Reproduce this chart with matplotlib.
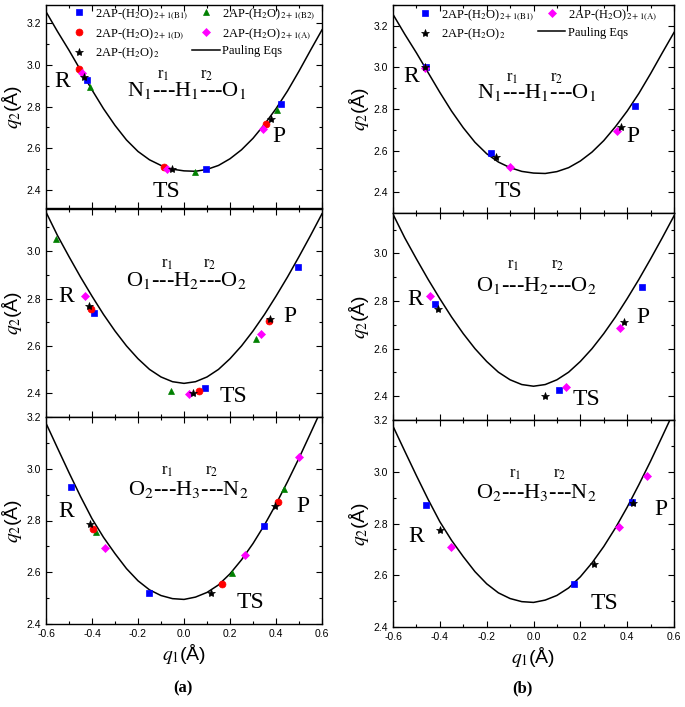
import matplotlib
matplotlib.use('Agg')
import matplotlib.pyplot as plt
from matplotlib.ticker import MultipleLocator, FormatStrFormatter

plt.rcParams['font.family'] = ['Liberation Serif', 'DejaVu Serif']
plt.rcParams['mathtext.fontset'] = 'stix'

# Pauling curves, q1 grid shared by all panels
q1_grid = [-0.60, -0.55, -0.50, -0.45, -0.40, -0.35, -0.30, -0.25, -0.20, -0.15, -0.10, -0.05, 0.00,
           0.05, 0.10, 0.15, 0.20, 0.25, 0.30, 0.35, 0.40, 0.45, 0.50, 0.55, 0.60]
pauling_nho = [3.255, 3.16, 3.07, 2.975, 2.88, 2.79, 2.71, 2.64, 2.585, 2.545, 2.518, 2.50, 2.492,
               2.49, 2.499, 2.518, 2.55, 2.593, 2.648, 2.715, 2.79, 2.875, 2.97, 3.07, 3.168]
pauling_oho = [3.165, 3.066, 2.977, 2.891, 2.810, 2.733, 2.663, 2.600, 2.546, 2.501, 2.469, 2.449, 2.442,
               2.449, 2.469, 2.501, 2.546, 2.600, 2.663, 2.733, 2.810, 2.891, 2.977, 3.066, 3.158]
pauling_ohn = [3.176, 3.08, 2.985, 2.893, 2.807, 2.735, 2.672, 2.614, 2.567, 2.532, 2.51, 2.498, 2.495,
               2.504, 2.522, 2.551, 2.594, 2.648, 2.711, 2.783, 2.863, 2.95, 3.041, 3.137, 3.234]

# points (q1 list, q2 list) ordered R, TS, P
# panel (a) N1-H1-O1
a1_B1 = ([-0.420, 0.096, 0.422], [2.926, 2.499, 2.814])
a1_B2 = ([-0.409, 0.049, 0.403], [2.896, 2.485, 2.784])
a1_D = ([-0.455, -0.085, 0.357], [2.981, 2.512, 2.715])
a1_A = ([-0.443, -0.074, 0.345], [2.963, 2.501, 2.693])
a1_S = ([-0.433, -0.054, 0.378], [2.944, 2.499, 2.741])
# panel (a) O1-H2-O2
a2_B1 = ([-0.390, 0.090, 0.497], [2.741, 2.421, 2.934])
a2_B2 = ([-0.557, -0.057, 0.312], [3.050, 2.411, 2.629])
a2_D = ([-0.404, 0.067, 0.368], [2.757, 2.409, 2.707])
a2_A = ([-0.430, 0.023, 0.335], [2.809, 2.396, 2.650])
a2_S = ([-0.412, 0.040, 0.374], [2.767, 2.400, 2.715])
# panel (a) O2-H3-N2
a3_B1 = ([-0.491, -0.151, 0.349], [2.928, 2.521, 2.779])
a3_B2 = ([-0.383, 0.209, 0.436], [2.754, 2.597, 2.921])
a3_D = ([-0.394, 0.165, 0.410], [2.766, 2.554, 2.872])
a3_A = ([-0.342, 0.267, 0.501], [2.695, 2.667, 3.046])
a3_S = ([-0.407, 0.117, 0.397], [2.786, 2.521, 2.855])
# panel (b)
b1_B1 = ([-0.460, -0.180, 0.435], [3.003, 2.590, 2.814])
b1_A = ([-0.465, -0.102, 0.357], [2.995, 2.523, 2.694])
b1_S = ([-0.462, -0.161, 0.372], [3.000, 2.568, 2.715])
b2_B1 = ([-0.419, 0.108, 0.465], [2.789, 2.428, 2.857])
b2_A = ([-0.440, 0.137, 0.371], [2.821, 2.438, 2.688])
b2_S = ([-0.408, 0.048, 0.385], [2.765, 2.400, 2.712])
b3_B1 = ([-0.459, 0.175, 0.421], [2.872, 2.566, 2.885])
b3_A = ([-0.352, 0.364, 0.483], [2.708, 2.788, 2.985])
b3_S = ([-0.398, 0.258, 0.423], [2.775, 2.644, 2.879])

lab_B1 = r'2AP-(H$_2$O)$_{\mathrm{2+1(B1)}}$'
lab_B2 = r'2AP-(H$_2$O)$_{\mathrm{2+1(B2)}}$'
lab_D = r'2AP-(H$_2$O)$_{\mathrm{2+1(D)}}$'
lab_A = r'2AP-(H$_2$O)$_{\mathrm{2+1(A)}}$'
lab_S = r'2AP-(H$_2$O)$_2$'

sty = {
    'B1': dict(marker='s', color='#0000ff', ms=4.5),
    'B2': dict(marker='^', color='#008000', ms=5),
    'D': dict(marker='o', color='#ff0000', ms=5),
    'A': dict(marker='D', color='#ff00ff', ms=4.2),
    'S': dict(marker='*', color='black', ms=6),
}

fig = plt.figure(figsize=(6.85, 7.07), dpi=100)
W, H = 685.0, 707.0


def make_ax(x0, x1, y0, y1):
    return fig.add_axes([x0 / W, 1 - y1 / H, (x1 - x0) / W, (y1 - y0) / H])


def style_ax(ax, ylim, show_x):
    ax.set_xlim(-0.6, 0.6)
    ax.set_ylim(*ylim)
    ax.xaxis.set_major_locator(MultipleLocator(0.2))
    ax.xaxis.set_minor_locator(MultipleLocator(0.1))
    ax.yaxis.set_major_locator(MultipleLocator(0.2))
    ax.yaxis.set_minor_locator(MultipleLocator(0.1))
    ax.xaxis.set_major_formatter(FormatStrFormatter('%.1f'))
    ax.yaxis.set_major_formatter(FormatStrFormatter('%.1f'))
    ax.tick_params(which='both', direction='in', top=True, right=True,
                   labelsize=7.5, labelfontfamily='Liberation Sans', width=0.8,
                   labelbottom=show_x, colors='black')
    ax.tick_params(which='major', length=4)
    ax.tick_params(which='minor', length=2)
    ax.set_ylabel(r'$q_2$(Å)', fontsize=14, family='Liberation Sans', labelpad=2)
    for s in ax.spines.values():
        s.set_linewidth(1.0)


def draw_points(ax, series):
    handles = {}
    for key, (xs, ys) in series:
        st = sty[key]
        h, = ax.plot(xs, ys, linestyle='none', marker=st['marker'], color=st['color'],
                     markersize=st['ms'], markeredgewidth=0.5, zorder=3)
        handles[key] = h
    return handles


def mol_label(ax, txt, pos, r1pos, r2pos):
    ax.text(pos[0], pos[1], txt, fontsize=16, ha='center', va='center')
    ax.text(r1pos[0], r1pos[1], r'r$_1$', fontsize=12, ha='center', va='center')
    ax.text(r2pos[0], r2pos[1], r'r$_2$', fontsize=12, ha='center', va='center')


def site_labels(ax, rp, tsp, pp):
    ax.text(rp[0], rp[1], 'R', fontsize=17, ha='center', va='center')
    ax.text(tsp[0], tsp[1], 'TS', fontsize=17, ha='center', va='center')
    ax.text(pp[0], pp[1], 'P', fontsize=17, ha='center', va='center')


leg_kw = dict(ncol=2, loc='upper left', frameon=False, fontsize=9, handlelength=2.2,
              handletextpad=0.2, columnspacing=0.3, labelspacing=0.3, borderpad=0.1,
              borderaxespad=0.0)

# ---------------- panel (a) ----------------
ax = make_ax(46, 322, 5, 208)
style_ax(ax, (2.314, 3.287), False)
line, = ax.plot(q1_grid, pauling_nho, color='black', lw=1.1, zorder=2)
h = draw_points(ax, [('B1', a1_B1), ('B2', a1_B2), ('D', a1_D), ('A', a1_A), ('S', a1_S)])
mol_label(ax, r'N$_1$---H$_1$---O$_1$', (0.01, 2.875), (-0.09, 2.952), (0.10, 2.952))
site_labels(ax, (-0.53, 2.92), (-0.075, 2.392), (0.414, 2.656))
ax.legend([h['B1'], h['D'], h['S'], h['B2'], h['A'], line],
          [lab_B1, lab_D, lab_S, lab_B2, lab_A, 'Pauling Eqs'],
          bbox_to_anchor=(0.065, 1.0), **leg_kw)

ax = make_ax(46, 322, 209, 417)
style_ax(ax, (2.30, 3.178), False)
ax.plot(q1_grid, pauling_oho, color='black', lw=1.1, zorder=2)
draw_points(ax, [('B1', a2_B1), ('B2', a2_B2), ('D', a2_D), ('A', a2_A), ('S', a2_S)])
mol_label(ax, r'O$_1$---H$_2$---O$_2$', (0.012, 2.875), (-0.075, 2.947), (0.11, 2.947))
site_labels(ax, (-0.51, 2.809), (0.214, 2.386), (0.461, 2.725))

ax = make_ax(46, 322, 417, 624)
style_ax(ax, (2.4, 3.2), True)
ax.plot(q1_grid, pauling_ohn, color='black', lw=1.1, zorder=2)
draw_points(ax, [('B1', a3_B1), ('B2', a3_B2), ('D', a3_D), ('A', a3_A), ('S', a3_S)])
mol_label(ax, r'O$_2$---H$_3$---N$_2$', (0.017, 2.92), (-0.071, 2.99), (0.122, 2.99))
site_labels(ax, (-0.513, 2.834), (0.291, 2.485), (0.516, 2.853))
ax.set_xlabel(r'$q_1$(Å)', fontsize=14, family='Liberation Sans', labelpad=2)

# ---------------- panel (b) ----------------
ax = make_ax(393, 674, 5, 213)
style_ax(ax, (2.30, 3.30), False)
line, = ax.plot(q1_grid, pauling_nho, color='black', lw=1.1, zorder=2)
h = draw_points(ax, [('B1', b1_B1), ('A', b1_A), ('S', b1_S)])
mol_label(ax, r'N$_1$---H$_1$---O$_1$', (0.012, 2.878), (-0.09, 2.95), (0.097, 2.95))
site_labels(ax, (-0.521, 2.955), (-0.105, 2.403), (0.425, 2.667))
ax.legend([h['B1'], h['S'], h['A'], line],
          [lab_B1, lab_S, lab_A, 'Pauling Eqs'],
          bbox_to_anchor=(0.06, 0.995), **leg_kw)

ax = make_ax(393, 674, 213, 420)
style_ax(ax, (2.30, 3.17), False)
ax.plot(q1_grid, pauling_oho, color='black', lw=1.1, zorder=2)
draw_points(ax, [('B1', b2_B1), ('A', b2_A), ('S', b2_S)])
mol_label(ax, r'O$_1$---H$_2$---O$_2$', (0.012, 2.866), (-0.085, 2.95), (0.105, 2.95))
site_labels(ax, (-0.507, 2.807), (0.226, 2.386), (0.468, 2.73))

ax = make_ax(393, 674, 420, 627)
style_ax(ax, (2.4, 3.2), True)
ax.plot(q1_grid, pauling_ohn, color='black', lw=1.1, zorder=2)
draw_points(ax, [('B1', b3_B1), ('A', b3_A), ('S', b3_S)])
mol_label(ax, r'O$_2$---H$_3$---N$_2$', (0.011, 2.92), (-0.077, 2.99), (0.11, 2.99))
site_labels(ax, (-0.502, 2.75), (0.303, 2.49), (0.544, 2.853))
ax.set_xlabel(r'$q_1$(Å)', fontsize=14, family='Liberation Sans', labelpad=2)

fig.text(183 / W, 1 - 688 / H, '(a)', fontsize=12, fontweight='bold', ha='center', va='center')
fig.text(522 / W, 1 - 688 / H, '(b)', fontsize=12, fontweight='bold', ha='center', va='center')

fig.savefig('out.png', dpi=100)
